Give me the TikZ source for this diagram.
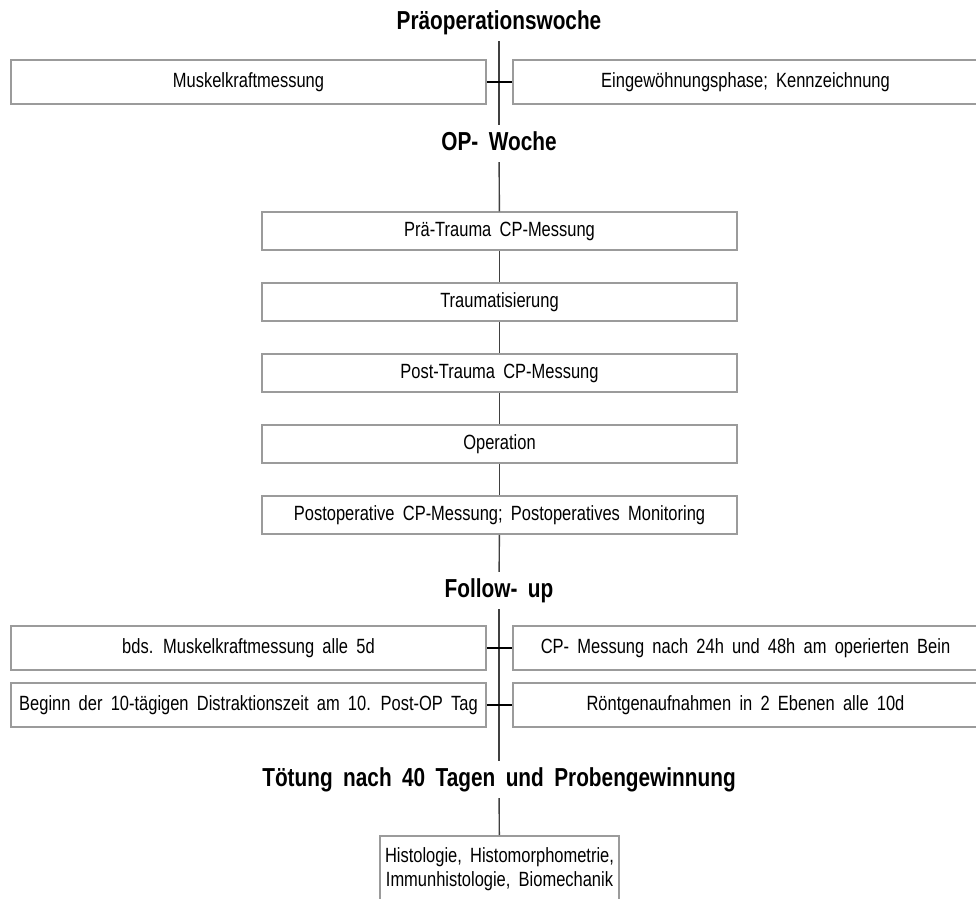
\documentclass[tikz,border=0pt]{standalone}
\usepackage{fontspec}
\setmainfont[FakeStretch=0.8,WordSpace=1.8]{Liberation Sans}
\begin{document}
\begin{tikzpicture}[x=1pt,y=-1pt,
	box/.style={draw={rgb,255:red,155;green,155;blue,155},line width=1.5pt,fill=white,inner sep=0pt,
		minimum height=44pt,font=\fontsize{20.6}{24}\selectfont},
	wide/.style={box,minimum width=475pt},
	step box/.style={box,minimum width=475pt,minimum height=38pt},
	title/.style={anchor=base,inner xsep=2pt,inner ysep=7pt,text height=18pt,text depth=5pt,
		font=\fontsize{26}{30}\selectfont\bfseries},
	spine/.style={draw=black!75,line width=1.4pt},
	tie/.style={draw=black,line width=1.4pt}]

		\clip (0,0) rectangle (976,898);

		\node[title] (pre) at (499,29){Präoperationswoche};
		\node[wide] (kraft) at (248.5,82){Muskelkraftmessung};
		\node[box,minimum width=465pt] (eingew) at (745.5,82){Eingewöhnungsphase; Kennzeichnung};

		\node[title] (opw) at (499,150){OP- Woche};
		\node[step box] (praetr) at (499.5,231){Prä-Trauma CP-Messung};
		\node[step box] (trauma) at (499.5,302){Traumatisierung};
		\node[step box] (posttr) at (499.5,373){Post-Trauma CP-Messung};
		\node[step box] (op) at (499.5,444){Operation};
		\node[step box] (postop) at (499.5,515){Postoperative CP-Messung; Postoperatives Monitoring};

		\node[title] (follow) at (499,597){Follow- up};
		\node[wide] (bds) at (248.5,648){bds. Muskelkraftmessung alle 5d};
		\node[box,minimum width=465pt] (cpm) at (745.5,648){CP- Messung nach 24h und 48h am operierten Bein};
		\node[wide] (distr) at (248.5,705){Beginn der 10-tägigen Distraktionszeit am 10. Post-OP Tag};
		\node[box,minimum width=465pt] (roent) at (745.5,705){Röntgenaufnahmen in 2 Ebenen alle 10d};

		\node[title] (toet) at (499,786){Tötung nach 40 Tagen und Probengewinnung};
		\node[box,anchor=north,minimum width=239pt,minimum height=66pt,align=center] (histo) at (499.5,835)
			{Histologie, Histomorphometrie,\\Immunhistologie, Biomechanik};

		\draw[spine] (pre) -- (opw);
		\draw[tie] (kraft) -- (eingew);

		\draw[spine] (opw) -- (praetr);
		\draw[spine] (praetr) -- (trauma);
		\draw[spine] (trauma) -- (posttr);
		\draw[spine] (posttr) -- (op);
		\draw[spine] (op) -- (postop);
		\draw[spine] (postop) -- (follow);

		\draw[spine] (follow) -- (toet);
		\draw[tie] (bds) -- (cpm);
		\draw[tie] (distr) -- (roent);

		\draw[spine] (toet) -- (histo);
	\end{tikzpicture}
\end{document}
